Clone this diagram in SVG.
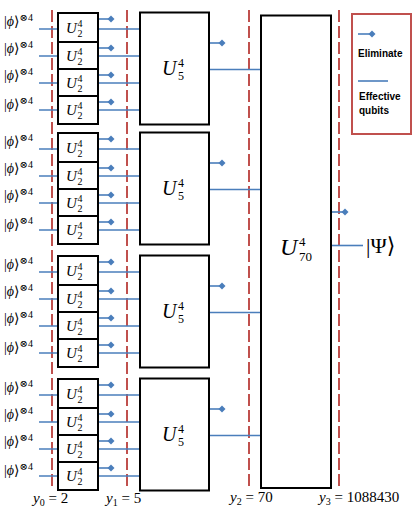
<svg xmlns="http://www.w3.org/2000/svg" width="415" height="517" viewBox="0 0 415 517">
<style>
.box{fill:#fff;stroke:#000;stroke-width:2}
.q{stroke:#4a7ebb;stroke-width:1.6;fill:none}
.dm{fill:#4a7ebb}
.dash{stroke:#c0504d;stroke-width:2;stroke-dasharray:12 4;fill:none}
.lg{font-family:'Liberation Sans',Arial,sans-serif;font-weight:bold;font-size:10px;fill:#000}
</style>
<defs>
<path id="dia" d="M-3.5,0 L0,-3.5 L3.5,0 L0,3.5 Z" class="dm"/>
<g id="phi" font-family="'Liberation Serif', 'DejaVu Serif', serif"><text font-size="14"><tspan>|</tspan><tspan font-style="italic">ϕ</tspan><tspan>⟩</tspan><tspan font-size="10" dy="-5">⊗4</tspan></text></g>
<g id="u2" font-family="'Liberation Serif', 'DejaVu Serif', serif"><text font-style="italic" font-size="15" x="-10" y="5">U</text><text font-size="10" x="1.5" y="-1">4</text><text font-size="10" x="1.5" y="9">2</text></g>
<g id="grp">
<line class="q" x1="39" y1="16" x2="140" y2="16"/>
<line class="q" x1="39" y1="43" x2="140" y2="43"/>
<line class="q" x1="39" y1="70" x2="140" y2="70"/>
<line class="q" x1="39" y1="97" x2="140" y2="97"/>
<line class="q" x1="98" y1="6" x2="111" y2="6"/><use href="#dia" x="111" y="6"/>
<line class="q" x1="98" y1="35" x2="111" y2="35"/><use href="#dia" x="111" y="35"/>
<line class="q" x1="98" y1="62" x2="111" y2="62"/><use href="#dia" x="111" y="62"/>
<line class="q" x1="98" y1="89" x2="111" y2="89"/><use href="#dia" x="111" y="89"/>
<line class="q" x1="209" y1="30" x2="222" y2="30"/><use href="#dia" x="222" y="30"/>
<line class="q" x1="209" y1="56.5" x2="261" y2="56.5"/>
<rect class="box" x="58" y="0" width="40" height="29"/>
<rect class="box" x="58" y="29" width="40" height="27"/>
<rect class="box" x="58" y="56" width="40" height="27"/>
<rect class="box" x="58" y="83" width="40" height="28"/>
<use href="#u2" x="76" y="15"/>
<use href="#u2" x="76" y="43"/>
<use href="#u2" x="76" y="70"/>
<use href="#u2" x="76" y="97"/>
<rect class="box" x="140" y="-0.5" width="69" height="112"/>
<g font-family="'Liberation Serif', 'DejaVu Serif', serif"><text font-style="italic" font-size="20" x="162" y="62">U</text><text font-size="12" x="178" y="54">4</text><text font-size="12" x="178" y="67">5</text></g>
<use href="#phi" x="4" y="13"/>
<use href="#phi" x="4" y="40"/>
<use href="#phi" x="4" y="67"/>
<use href="#phi" x="4" y="96"/>
</g>
</defs>
<g id="connectors">
<line class="dash" x1="52" y1="10" x2="52" y2="488"/>
<line class="dash" x1="127" y1="10" x2="127" y2="488"/>
<line class="dash" x1="249" y1="10" x2="249" y2="488"/>
<line class="dash" x1="339" y1="10" x2="339" y2="488"/>
</g>
<g id="group1" transform="translate(0,13)"><use href="#grp"/></g>
<g id="group2" transform="translate(0,133)"><use href="#grp"/></g>
<g id="group3" transform="translate(0,256)"><use href="#grp"/></g>
<g id="group4" transform="translate(0,379)"><use href="#grp"/></g>
<g id="U70" font-family="'Liberation Serif', 'DejaVu Serif', serif">
<line class="q" x1="331" y1="212" x2="345" y2="212"/><use href="#dia" x="345" y="212"/>
<line class="q" x1="331" y1="245.5" x2="363" y2="245.5"/>
<rect class="box" x="261" y="15.5" width="70" height="472.5"/>
<text font-style="italic" font-size="24" x="280" y="255">U</text><text font-size="13" x="299" y="246">4</text><text font-size="13" x="299" y="261">70</text>
</g>
<g id="psi" font-family="'Liberation Serif', 'DejaVu Serif', serif"><text font-size="22" x="366" y="253">|Ψ⟩</text></g>
<g id="legend">
<rect x="352" y="14" width="59" height="120" fill="#fff" stroke="#c0504d" stroke-width="2"/>
<line class="q" x1="358" y1="34" x2="372" y2="34"/><use href="#dia" x="372" y="34"/>
<text class="lg" x="358" y="57">Eliminate</text>
<line class="q" x1="358" y1="81" x2="388" y2="81"/>
<text class="lg" x="359" y="100">Effective</text>
<text class="lg" x="359" y="114">qubits</text>
</g>
<g id="labels" font-family="'Liberation Serif', 'DejaVu Serif', serif" font-size="15">
<text x="33" y="503"><tspan font-style="italic">y</tspan><tspan font-size="10" dy="3">0</tspan><tspan dy="-3"> = 2</tspan></text>
<text x="106" y="503"><tspan font-style="italic">y</tspan><tspan font-size="10" dy="3">1</tspan><tspan dy="-3"> = 5</tspan></text>
<text x="230" y="502"><tspan font-style="italic">y</tspan><tspan font-size="10" dy="3">2</tspan><tspan dy="-3"> = 70</tspan></text>
<text x="319" y="502"><tspan font-style="italic">y</tspan><tspan font-size="10" dy="3">3</tspan><tspan dy="-3"> = 1088430</tspan></text>
</g>
</svg>
